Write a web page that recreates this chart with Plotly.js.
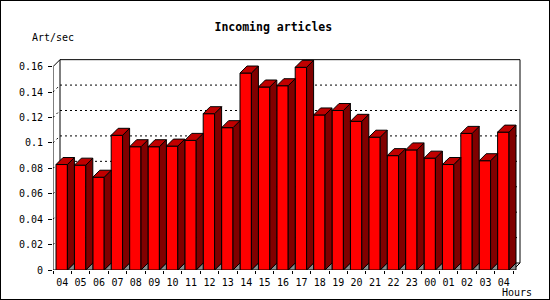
<!DOCTYPE html>
<html>
<head>
<meta charset="utf-8">
<script src="https://cdn.plot.ly/plotly-3.0.1.min.js"></script>
<style>
html,body{margin:0;padding:0;background:#fff;}
#wrap{position:relative;width:550px;height:300px;}
#chart{width:550px;height:300px;}
#frame{position:absolute;left:0;top:0;width:548px;height:298px;border:1px solid #000;pointer-events:none;}
</style>
</head>
<body>
<div id="wrap"><div id="chart"></div><div id="frame"></div></div>
<script>
// ---- data ----
const hours = ["04","05","06","07","08","09","10","11","12","13","14","15","16","17","18","19","20","21","22","23","00","01","02","03","04"];
const artPerSec = [0.083, 0.0825, 0.073, 0.106, 0.097, 0.097, 0.0975, 0.102, 0.123, 0.112, 0.155, 0.144, 0.145, 0.1595, 0.122, 0.1255, 0.117, 0.1045, 0.090, 0.0945, 0.088, 0.083, 0.1075, 0.086, 0.1085];
const yTicks = [0, 0.02, 0.04, 0.06, 0.08, 0.1, 0.12, 0.14, 0.16];
const yTickText = ["0","0.02","0.04","0.06","0.08","0.1","0.12","0.14","0.16"];

// ---- geometry (style) ----
const M = {l:53, r:29, t:58, b:30};
const plotW = 550 - M.l - M.r, plotH = 300 - M.t - M.b;
const PX_CAT = 18.4;             // px per category
const PX_UNIT = 1270.8;          // px per y unit
const DEPTH = 7;                 // px 3D depth
const dx = DEPTH / PX_CAT, dy = DEPTH / PX_UNIT;
const off = 3 / PX_CAT, fw = 1 - dx;   // front face offset / width
const n = hours.length;
const yMax = yTicks[yTicks.length - 1];
const xRange = [0, plotW / PX_CAT];

const idx = hours.map((_, i) => i);
const labelPos = idx.map(i => i + 0.5);
const boundaries = idx.concat([n]);

// polygons for side, top, floor triangles
function polys(fn) {
  const xs = [], ys = [];
  artPerSec.forEach((v, i) => {
    fn(i, v).forEach(p => { xs.push(p[0]); ys.push(p[1]); });
    xs.push(null); ys.push(null);
  });
  return {xs, ys};
}
const sidePoly = polys((i, v) => { const a = i + off + fw; return [[a,0],[a+dx,dy],[a+dx,v+dy],[a,v],[a,0]]; });
const topPoly = polys((i, v) => { const a = i + off; return [[a,v],[a+fw,v],[a+fw+dx,v+dy],[a+dx,v+dy],[a,v]]; });
const floorPoly = polys((i, v) => { const a = i + off + fw; return [[a,0],[a+dx,dy],[a+dx,0],[a,0]]; });

const poly = (p, color) => ({
  type:'scatter', mode:'lines', x:p.xs, y:p.ys, fill:'toself', fillcolor:color,
  line:{color:'#000', width:1}, hoverinfo:'skip', showlegend:false, connectgaps:false
});

const traces = [
  {type:'bar', x:idx, y:artPerSec, width:fw, offset:off,
   marker:{color:'#ff0000', line:{color:'#000', width:1}}, hoverinfo:'skip', showlegend:false},
  poly(floorPoly, '#8c8c8c'),
  poly(sidePoly, '#800000'),
  poly(topPoly, '#c00000'),
  {type:'scatter', mode:'markers', x:[labelPos[0]], y:[0], xaxis:'x2', yaxis:'y',
   marker:{opacity:0}, hoverinfo:'skip', showlegend:false}
];

// frame and grid shapes
const shapes = [];
const addLine = (x0,y0,x1,y1,dash) => shapes.push({type:'line', xref:'x', yref:'y', x0, y0, x1, y1, layer:'below',
  line:{color:'#000', width:1, dash: dash || 'solid'}});
yTicks.forEach(t => {
  if (t > 0 && t < yMax) {
    addLine(dx, t + dy, n + dx, t + dy, '2px,3px');
    addLine(0, t, dx, t + dy, '2px,3px');
  }
});
addLine(0, 0, 0, yMax);               // front y axis
addLine(0, yMax, dx, yMax + dy);      // top-left diagonal
addLine(dx, dy, dx, yMax + dy);       // back left
addLine(dx, yMax + dy, n + dx, yMax + dy); // back top
addLine(n + dx, dy, n + dx, yMax + dy);    // back right
addLine(dx, dy, n + dx, dy);          // back floor
addLine(0, 0, n, 0);                  // front floor
addLine(n, 0, n + dx, dy);            // right floor diagonal

const mono = "DejaVu Sans Mono, Liberation Mono, monospace";
const tickFont = {family:mono, size:10, color:'#000'};
const layout = {
  width:550, height:300, margin:M,
  paper_bgcolor:'#fff', plot_bgcolor:'rgba(0,0,0,0)',
  font:{family:mono, size:10, color:'#000'},
  title:{text:'<b>Incoming articles</b>', font:{family:mono, size:11.5, color:'#000'},
         x:0.497, xref:'container', y:1 - 27/300, yref:'container', xanchor:'center', yanchor:'middle'},
  xaxis:{range:xRange, showgrid:false, zeroline:false, showline:false,
         tickmode:'array', tickvals:boundaries, showticklabels:false,
         ticks:'outside', ticklen:3, tickcolor:'#000', fixedrange:true},
  xaxis2:{range:xRange, overlaying:'x', anchor:'y', side:'bottom', showgrid:false, zeroline:false, showline:false,
         tickmode:'array', tickvals:labelPos, ticktext:hours,
         ticks:'outside', ticklen:3, tickcolor:'rgba(0,0,0,0)',
         tickfont:tickFont, fixedrange:true},
  yaxis:{range:[0, plotH / PX_UNIT], showgrid:false, zeroline:false, showline:false,
         tickmode:'array', tickvals:yTicks, ticktext:yTickText,
         ticks:'outside', ticklen:4, tickcolor:'#000', ticklabelstandoff:3,
         tickfont:tickFont, fixedrange:true},
  bargap:0,
  shapes:shapes,
  annotations:[
    {text:'Art/sec', xref:'paper', yref:'paper', x:(30 - M.l)/plotW, y:(300 - M.b - 37.5)/plotH,
     xanchor:'left', yanchor:'middle', showarrow:false, font:tickFont},
    {text:'Hours', xref:'paper', yref:'paper', x:(534 - M.l)/plotW, y:(300 - M.b - 292)/plotH,
     xanchor:'right', yanchor:'middle', showarrow:false, font:tickFont}
  ]
};
Plotly.newPlot('chart', traces, layout, {staticPlot:true, displayModeBar:false});
</script>
</body>
</html>
